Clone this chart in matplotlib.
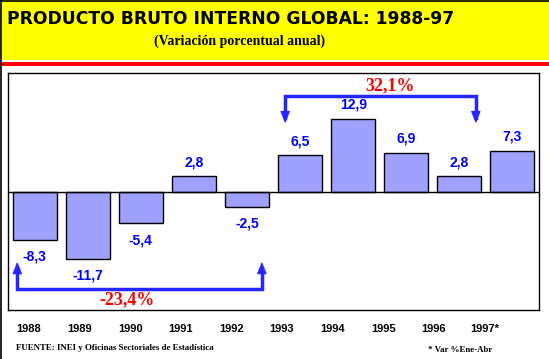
import matplotlib
matplotlib.use("Agg")
import matplotlib.pyplot as plt
from matplotlib.patches import Rectangle

years = ["1988", "1989", "1990", "1991", "1992", "1993", "1994", "1995", "1996", "1997*"]
values = [-8.3, -11.7, -5.4, 2.8, -2.5, 6.5, 12.9, 6.9, 2.8, 7.3]
period1_label = "-23,4%"
period2_label = "32,1%"
title = "PRODUCTO BRUTO INTERNO GLOBAL: 1988-97"
subtitle = "(Variación porcentual anual)"
source = "FUENTE: INEI y Oficinas Sectoriales de Estadística"
note = "* Var %Ene-Abr"

W, H = 549, 359
fig = plt.figure(figsize=(W / 100, H / 100), dpi=100)
fig.patch.set_facecolor("white")

def fx(px):
    return px / W

def fy(py):
    return 1 - py / H

# header
fig.patches.append(Rectangle((0, fy(60)), 1, 60 / H, transform=fig.transFigure,
                             facecolor="#ffff00", edgecolor="none", zorder=0))
fig.patches.append(Rectangle((0, fy(65.5)), 1, 3.5 / H, transform=fig.transFigure,
                             facecolor="#ff0000", edgecolor="none", zorder=0))
fig.add_artist(plt.Line2D([fx(0.5), fx(0.5)], [0, 1], transform=fig.transFigure, color="black", lw=1.2))
fig.add_artist(plt.Line2D([0, 1], [fy(0.5), fy(0.5)], transform=fig.transFigure, color="black", lw=1.2))

fig.text(fx(7), fy(19), title, fontsize=12.3, fontweight="heavy", family="DejaVu Sans",
         ha="left", va="center", color="black")
fig.text(fx(240), fy(41.5), subtitle, fontsize=10, fontweight="bold", family="Liberation Serif",
         ha="center", va="center", color="black")

ax = fig.add_axes([fx(8), 1 - 310 / H, 531 / W, 237 / H])
ax.set_xlim(-0.5, 9.5)
ax.set_ylim(-20.65, 20.93)
ax.set_xticks([])
ax.set_yticks([])
for s in ax.spines.values():
    s.set_linewidth(1.0)
    s.set_color("black")

x = list(range(len(values)))
ax.bar(x, values, width=0.83, color="#a0a0ff", edgecolor="black", linewidth=1.0, zorder=2)
ax.axhline(0, color="black", lw=1.0, zorder=3)

for xi, v in zip(x, values):
    txt = f"{v:.1f}".replace(".", ",")
    off = 14 if v >= 0 else -17
    ax.annotate(txt, (xi, v), xytext=(0, off), textcoords="offset pixels",
                ha="center", va="center", fontsize=10, fontweight="bold",
                color="#0000ff", family="Liberation Sans")

blue = "#2525ff"
lw = 2.5

def bracket(x0, x1, ybar, ytip):
    d = 1.0 if ytip > ybar else -1.0
    ax.plot([x0, x0, x1, x1], [ytip - d * 1.0, ybar, ybar, ytip - d * 1.0],
            color=blue, lw=lw, solid_joinstyle="miter", zorder=4)
    for xx in (x0, x1):
        ax.annotate("", xy=(xx, ytip), xytext=(xx, ytip - d * 2.0),
                    arrowprops=dict(arrowstyle="-|>,head_length=0.75,head_width=0.3",
                                    mutation_scale=10, color=blue, lw=0.8,
                                    shrinkA=0, shrinkB=0), zorder=4)

bracket(-0.325, 4.28, -17.0, -12.2)
bracket(4.72, 8.31, 16.9, 12.1)

ax.text(1.74, -18.9, period1_label, ha="center", va="center", color="#ff0000",
        fontsize=13, fontweight="bold", family="Liberation Serif")
ax.text(6.69, 18.65, period2_label, ha="center", va="center", color="#ff0000",
        fontsize=13, fontweight="bold", family="Liberation Serif")

for i, yr in enumerate(years):
    fig.text(fx(29 + 50.6 * i), fy(329), yr, ha="center", va="center", fontsize=8,
             fontweight="bold", family="Liberation Sans", color="black")

fig.text(fx(16.5), fy(348), source, ha="left", va="center", fontsize=6.4, fontweight="bold",
         family="Liberation Serif", color="black")
fig.text(fx(428), fy(350), note, ha="left", va="center", fontsize=6.4, fontweight="bold",
         family="Liberation Serif", color="black")

fig.savefig("out.png", dpi=100, facecolor="white")
